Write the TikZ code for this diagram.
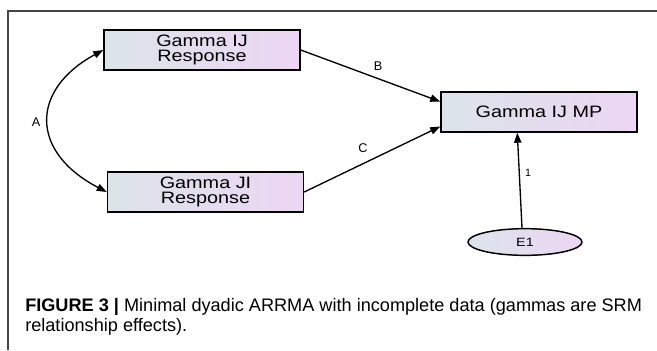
\documentclass[tikz,border=0pt]{standalone}
\usepackage{fontspec}
\setmainfont{Liberation Sans}
\newfontfamily\diagfont[FakeStretch=1.2]{Liberation Sans}
\usepackage{tikz}
\usetikzlibrary{arrows.meta, shapes.geometric, positioning, calc}

\definecolor{boxleft}{RGB}{220,228,234}
\definecolor{boxright}{RGB}{236,214,243}
\definecolor{framegray}{RGB}{70,70,70}

\begin{document}
\begin{tikzpicture}[x=0.75pt, y=-0.75pt,
    varbox/.style={rectangle, draw=black, line width=1.1pt, left color=boxleft, right color=boxright,
        minimum width=147pt, minimum height=30pt, inner sep=0pt, align=center,
        font=\diagfont\fontsize{12.4}{11.6}\selectfont},
    errnode/.style={ellipse, draw=black, line width=1.1pt, left color=boxleft, right color=boxright,
        minimum width=85.5pt, minimum height=20pt, inner sep=0pt,
        font=\diagfont\fontsize{9}{10}\selectfont},
    pathline/.style={line width=1pt, -{Triangle[length=7.5pt, width=5.5pt]}},
    lbl/.style={font=\fontsize{9.5}{10}\selectfont, inner sep=0pt},
    captext/.style={anchor=base west, inner sep=0pt, font=\fontsize{13.6}{15}\selectfont}]
    \useasboundingbox (0,0) rectangle (657,350);
    % frame
    \draw[framegray, line width=1pt] (657,11) -- (8,11) -- (8,350);

    \node[varbox] (ij) at (202,50) {Gamma IJ\\Response};
    \node[varbox] (ji) at (205.5,192) {Gamma JI\\Response};
    \node[varbox] (mp) at (539,112) {Gamma IJ MP};
    \node[errnode] (e1) at (525,242) {E1};

    % covariance
    \draw[line width=1pt, {Triangle[length=7.5pt, width=5.5pt]}-{Triangle[length=7.5pt, width=5.5pt]}]
        (ij.west) .. controls (30,90) and (30,152) .. (ji.west);
    \node[lbl] (la) at (36,122) {A};

    % paths
    \draw[pathline] (ij.east) -- ($(mp.north west)!0.25!(mp.south west)$);
    \draw[pathline] (ji.east) -- ($(mp.north west)!0.85!(mp.south west)$);
    \draw[pathline] ($(e1.north)+(-3,0)$) -- ($(mp.south west)!0.39!(mp.south east)$);
    \node[lbl] (lb) at (378,66) {B};
    \node[lbl] (lc) at (363,148) {C};
    \node[lbl, font=\fontsize{8}{9}\selectfont] (l1) at (528,173) {1};

    % caption
    \node[captext] (cap1) at (25,311) {\textbf{FIGURE 3 |} Minimal dyadic ARRMA with incomplete data (gammas are SRM};
    \node[captext] (cap2) at (25,331) {relationship effects).};
\end{tikzpicture}
\end{document}
